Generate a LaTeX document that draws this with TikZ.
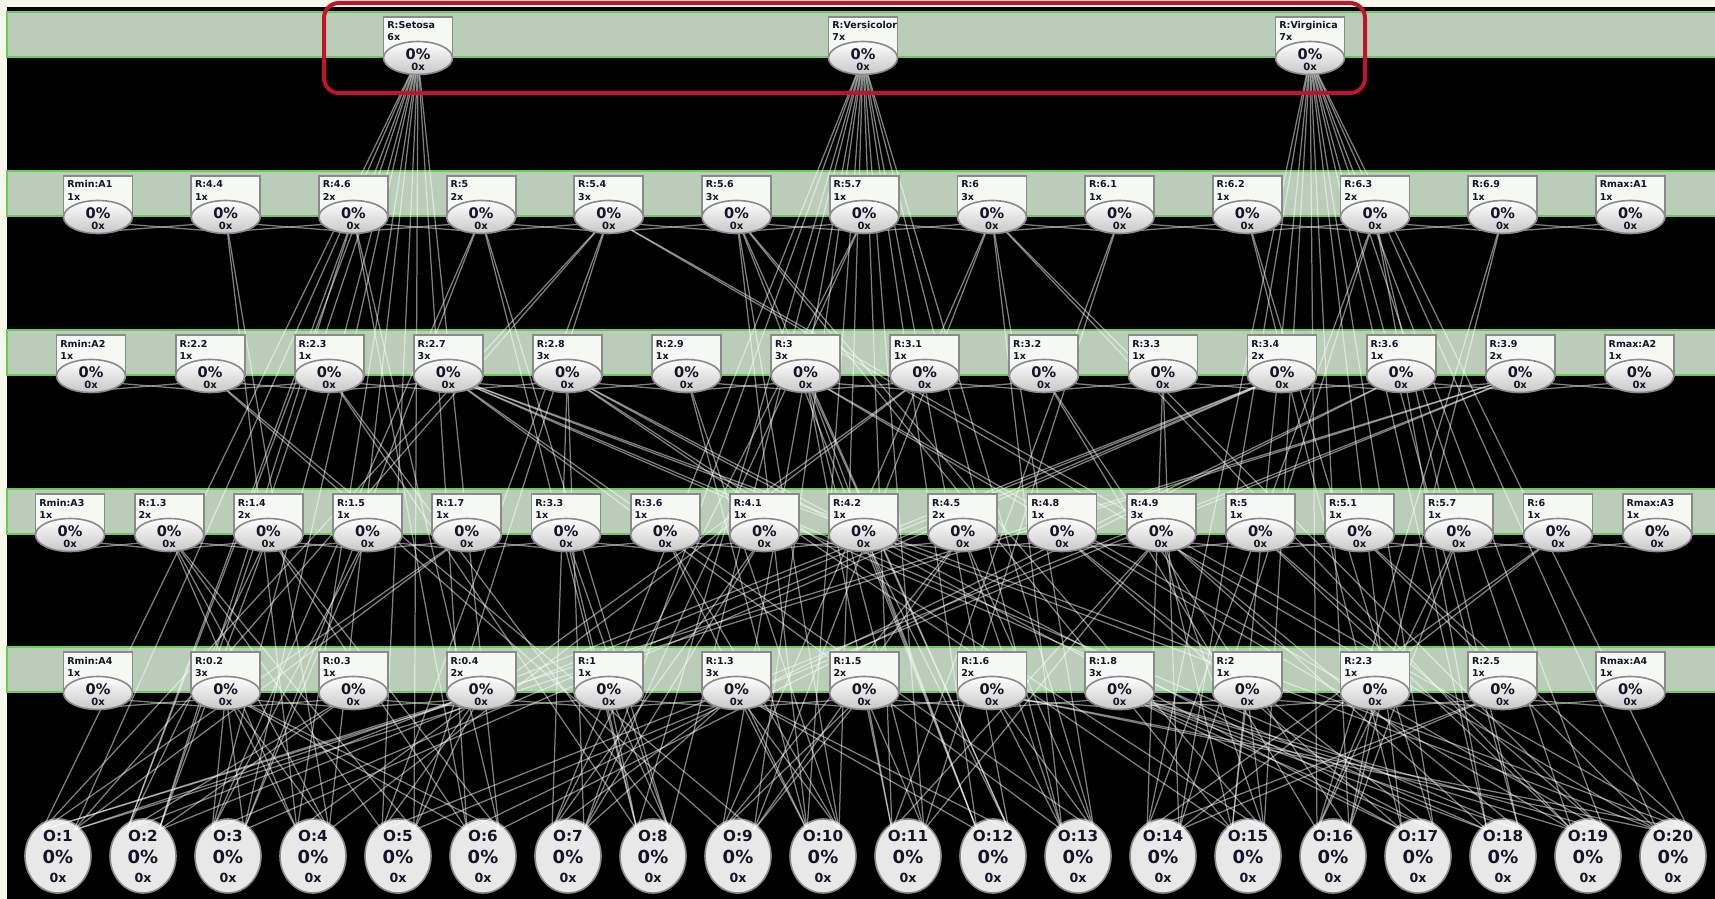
\documentclass[tikz,border=0pt]{standalone}
\usepackage{fontspec}
\setmainfont{DejaVu Sans}
\usetikzlibrary{shapes.geometric}
\pgfdeclarelayer{bg}\pgfdeclarelayer{onodes}\pgfdeclarelayer{edges}
\pgfsetlayers{bg,onodes,edges,main}
\definecolor{cream}{RGB}{245,248,232}
\definecolor{bandfill}{RGB}{185,205,185}
\definecolor{bandline}{RGB}{110,200,90}
\definecolor{framered}{RGB}{192,20,42}
\definecolor{boxfill}{RGB}{246,248,244}
\definecolor{boxline}{RGB}{138,138,138}
\definecolor{ofill}{RGB}{232,232,232}
\definecolor{txt}{RGB}{20,20,40}
\newcommand\vnode[5]{%
  \node[vbox] (#1-b) at (#2,{#3-41}) {};
  \node[lbl] (#1-l) at ({#2-31},{#3-29}) {#4};
  \node[lbl] (#1-n) at ({#2-31},{#3-17}) {#5x};
  \node[vell] (#1) at (#2,#3) {};
  \node[pct] (#1-p) at (#2,{#3-4}) {0\%};
  \node[cnt] (#1-x) at (#2,{#3+9}) {0x};
}
\newcommand\conn[2]{%
  \draw[edge] (#1.center) -- ([xshift=-8pt,yshift=13pt]#2.center);
  \draw[edge] (#1.center) -- ([xshift=8pt,yshift=13pt]#2.center);
}
\newcommand\xlink[2]{%
  \draw[edge] ([yshift=-2.5pt]#1.center) -- ([yshift=-7.5pt]#2.center);
  \draw[edge] ([yshift=-7.5pt]#1.center) -- ([yshift=-2.5pt]#2.center);
}
\begin{document}
\begin{tikzpicture}[x=0.5pt,y=-0.5pt,
  band/.style={fill=bandfill,draw=bandline,line width=0.6pt},
  vbox/.style={rectangle,draw=boxline,line width=0.9pt,fill=boxfill,minimum width=34.5pt,minimum height=20.5pt,inner sep=0pt,outer sep=0pt,anchor=north},
  vell/.style={ellipse,draw=boxline,line width=0.8pt,top color=white,middle color=white,bottom color=black!22,minimum width=34.5pt,minimum height=16.5pt,inner sep=0pt},
  lbl/.style={font=\fontsize{4.75}{5}\selectfont\bfseries,text=txt,inner sep=0pt,anchor=base west},
  pct/.style={font=\fontsize{7.3}{8}\selectfont\bfseries,text=txt,inner sep=0pt},
  cnt/.style={font=\fontsize{5}{6}\selectfont\bfseries,text=txt,inner sep=0pt},
  onode/.style={ellipse,draw=boxline,line width=0.8pt,fill=ofill,minimum width=33pt,minimum height=37pt,inner sep=0pt},
  otxt/.style={font=\fontsize{7.6}{8}\selectfont\bfseries,text=txt,inner sep=0pt},
  opct/.style={font=\fontsize{9}{10}\selectfont\bfseries,text=txt,inner sep=0pt},
  ocnt/.style={font=\fontsize{6.3}{7}\selectfont\bfseries,text=txt,inner sep=0pt},
  edge/.style={draw=white,draw opacity=0.5,line width=0.62pt}]
\useasboundingbox (0,0) rectangle (1715,899);
\begin{pgfonlayer}{bg}
  \fill[cream] (0,0) rectangle (1715,899);
  \fill[black] (7,7) rectangle (1715,899);
  \foreach \yt in {12,171,330,489,647} \draw[band] (7,\yt) rectangle (1725,{\yt+45});
\end{pgfonlayer}
% class layer
\foreach \lab/\cnt/\xx [count=\i from 0] in {R:Setosa/6/418,R:Versicolor/7/863,R:Virginica/7/1310}
  {\vnode{c-\i}{\xx}{58}{\lab}{\cnt}}
% A1
\foreach \lab/\cnt [count=\i from 0] in {Rmin:A1/1,R:4.4/1,R:4.6/2,R:5/2,R:5.4/3,R:5.6/3,R:5.7/1,R:6/3,R:6.1/1,R:6.2/1,R:6.3/2,R:6.9/1,Rmax:A1/1}
  {\pgfmathsetmacro\xx{98+\i*127.7}\vnode{a1-\i}{\xx}{217}{\lab}{\cnt}}
% A2
\foreach \lab/\cnt [count=\i from 0] in {Rmin:A2/1,R:2.2/1,R:2.3/1,R:2.7/3,R:2.8/3,R:2.9/1,R:3/3,R:3.1/1,R:3.2/1,R:3.3/1,R:3.4/2,R:3.6/1,R:3.9/2,Rmax:A2/1}
  {\pgfmathsetmacro\xx{91+\i*119.1}\vnode{a2-\i}{\xx}{376}{\lab}{\cnt}}
% A3
\foreach \lab/\cnt [count=\i from 0] in {Rmin:A3/1,R:1.3/2,R:1.4/2,R:1.5/1,R:1.7/1,R:3.3/1,R:3.6/1,R:4.1/1,R:4.2/1,R:4.5/2,R:4.8/1,R:4.9/3,R:5/1,R:5.1/1,R:5.7/1,R:6/1,Rmax:A3/1}
  {\pgfmathsetmacro\xx{70+\i*99.2}\vnode{a3-\i}{\xx}{535}{\lab}{\cnt}}
% A4
\foreach \lab/\cnt [count=\i from 0] in {Rmin:A4/1,R:0.2/3,R:0.3/1,R:0.4/2,R:1/1,R:1.3/3,R:1.5/2,R:1.6/2,R:1.8/3,R:2/1,R:2.3/1,R:2.5/1,Rmax:A4/1}
  {\pgfmathsetmacro\xx{98+\i*127.7}\vnode{a4-\i}{\xx}{693}{\lab}{\cnt}}
% observation nodes
\begin{pgfonlayer}{onodes}
\foreach \i in {1,...,20} {
  \pgfmathsetmacro\xx{58+(\i-1)*85}
  \node[onode] (o\i) at (\xx,856) {};
  \node[otxt] (o\i-t) at (\xx,836) {O:\i};
  \node[opct] (o\i-p) at (\xx,857) {0\%};
  \node[ocnt] (o\i-x) at (\xx,878) {0x};
}
\end{pgfonlayer}
% connectors
\begin{pgfonlayer}{edges}
\foreach \uo/\ua/\ub/\uc/\ud/\uk in {
  1/4/12/4/3/0, 2/2/10/2/2/0, 3/3/10/3/1/0, 4/1/7/1/1/0, 5/4/12/1/3/0, 6/2/11/2/1/0,
  7/6/4/7/5/1, 8/3/2/5/4/1, 9/7/1/9/6/1, 10/5/5/6/5/1, 11/8/6/11/6/1, 12/5/6/8/5/1, 13/7/3/9/7/1,
  14/10/9/15/11/2, 15/5/4/11/9/2, 16/11/8/14/10/2, 17/9/4/10/8/2, 18/10/3/11/8/2, 19/7/6/12/8/2, 20/4/3/13/7/2} {
  \conn{a1-\ua}{o\uo}
  \conn{a2-\ub}{o\uo}
  \conn{a3-\uc}{o\uo}
  \conn{a4-\ud}{o\uo}
  \conn{c-\uk}{o\uo}
}
\foreach \lay/\nn in {a1/12,a2/13,a3/16,a4/12} {
  \foreach \i in {1,...,\nn} {
    \pgfmathtruncatemacro\h{\i-1}
    \xlink{\lay-\h}{\lay-\i}
  }
}
\end{pgfonlayer}
% highlight frame
\draw[framered,line width=2pt,rounded corners=7.5pt] (324,3) rectangle (1365,93);
\end{tikzpicture}
\end{document}
